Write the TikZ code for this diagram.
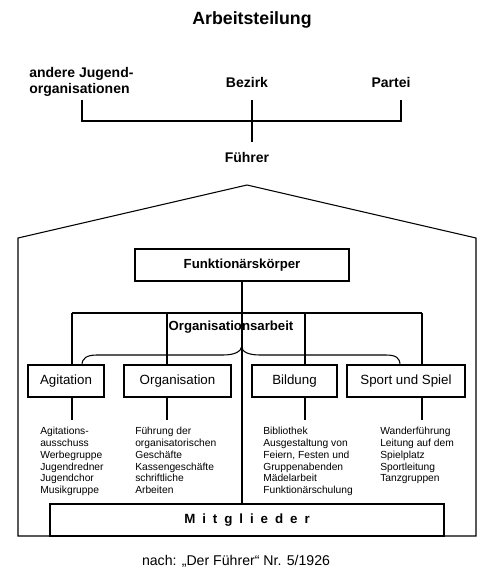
\documentclass[tikz,border=0pt]{standalone}
\usepackage{fontspec}
\setmainfont{Liberation Sans}
\usetikzlibrary{positioning,calc}
\tikzset{
	box/.style={draw, line width=0.8pt, fill=white, align=center, inner sep=0pt},
	wire/.style={line width=0.8pt},
	heavywire/.style={line width=1.5pt},
	toplabel/.style={font=\fontsize{10.5}{12}\selectfont\bfseries, inner sep=0pt},
	itemlist/.style={font=\fontsize{7.7}{8.85}\selectfont, align=left,
		inner sep=0pt, anchor=north west}
}

\begin{document}
\begin{tikzpicture}[
		x=0.75pt, y=-0.75pt,   % one unit = one pixel of the reference, y downwards
		unitbox/.style={box, minimum height=24pt, font=\fontsize{10}{12}\selectfont},
		headbox/.style={box, minimum height=24pt, font=\fontsize{9.9}{12}\selectfont\bfseries},
		]
		\useasboundingbox (0,0) rectangle (490,574);
		
		%% ── Title ────────────────────────────────────────────────────────
		\node[font=\fontsize{13.3}{16}\selectfont\bfseries] (title) at (252,20) {Arbeitsteilung};
		
		%% ── Top: who the Führer answers to ──────────────────────────────
		\node[toplabel, align=left, anchor=north west] (ajo) at (29,67)
		{andere Jugend-\\organisationen};
		\node[toplabel] (bezirk) at (247,82) {Bezirk};
		\node[toplabel] (partei) at (391,82) {Partei};
		\node[toplabel] (fuehrer) at (247,157) {Führer};
		
		\coordinate (ajoend) at (82,100);
		\coordinate (bezend) at (252,100);
		\coordinate (parend) at (401,100);
		\coordinate (fueend) at (252,142);
		\draw[heavywire] (ajoend) -- (ajoend |- 0,121) -- (parend |- 0,121) -- (parend);
		\draw[heavywire] (bezend) -- (fueend);
		
		%% ── House outline ───────────────────────────────────────────────
		\draw[wire] (18,536) -- (18,238) -- (247,185) -- (476,238) -- (476,536) -- cycle;
		
		%% ── Funktionärskörper and Organisationsarbeit ───────────────────
		\node[headbox, minimum width=160.5pt] (fkoerper) at (242,265) {Funktionärskörper};
		\node[font=\fontsize{9.9}{12}\selectfont\bfseries] (orgarbeit) at (231,327)
		{Organisationsarbeit};
		
		%% ── The four departments ────────────────────────────────────────
		\node[unitbox, minimum width=57pt] (agit) at (66,381) {Agitation};
		\node[unitbox, minimum width=80.25pt] (orga) at (177.5,381) {Organisation};
		\node[unitbox, minimum width=63.75pt] (bild) at (294.5,381) {Bildung};
		\node[unitbox, minimum width=88.5pt] (sport) at (406,381) {Sport und Spiel};
		
		%% ── Members ─────────────────────────────────────────────────────
		\node[headbox, minimum width=295.5pt, font=\fontsize{10}{12}\selectfont\bfseries]
		(mitglieder) at (247,520) {\spaceskip=5.2pt M i t g l i e d e r};
		
		%% ── Branch lines ────────────────────────────────────────────────
		\coordinate (ca) at (72,313);
		\coordinate (cb) at (167,313);
		\coordinate (cc) at (305,313);
		\coordinate (cd) at (422,313);
		\draw[wire] (ca) -- (cd);
		\draw[wire] (fkoerper.south) -- (fkoerper.south |- mitglieder.north);
		\draw[wire] (ca) -- (ca |- agit.north);
		\draw[wire] (cb) -- (cb |- orga.north);
		\draw[wire] (cc) -- (cc |- bild.north);
		\draw[wire] (cd) -- (cd |- sport.north);
		
		% brace over the departments
		\coordinate (cusp) at (fkoerper.south |- 0,346);
		\draw[wire] (82,365) .. controls (82,358) and (87,355) .. (97,355)
		-- (223,355) .. controls (234,355) and (241,352) .. (cusp)
		.. controls (241,352) and (249,355) .. (260,355)
		-- (386,355) .. controls (396,355) and (400,358) .. (400,365);
		
		\draw[wire] (ca |- agit.south) -- ++(0,22);
		\draw[wire] (cb |- orga.south) -- ++(0,22);
		\draw[wire] (cc |- bild.south) -- ++(0,22);
		\draw[wire] (cd |- sport.south) -- ++(0,22);
		
		%% ── Task lists ──────────────────────────────────────────────────
		\node[itemlist] (agitlist) at (40,427)
		{Agitations-\\ausschuss\\Werbegruppe\\Jugendredner\\Jugendchor\\Musikgruppe};
		\node[itemlist] (orgalist) at (135,427)
		{Führung der\\organisatorischen\\Geschäfte\\Kassengeschäfte\\schriftliche\\Arbeiten};
		\node[itemlist] (bildlist) at (263,427)
		{Bibliothek\\Ausgestaltung von\\Feiern, Festen und\\Gruppenabenden\\Mädelarbeit\\Funktionärschulung};
		\node[itemlist] (sportlist) at (380,427)
		{Wanderführung\\Leitung auf dem\\Spielplatz\\Sportleitung\\Tanzgruppen};
		
		%% ── Source ──────────────────────────────────────────────────────
		\node[font=\fontsize{10.6}{12}\selectfont] (quelle) at (236,561)
		{nach: „Der Führer“ Nr. 5/1926};
		
	\end{tikzpicture}
\end{document}
